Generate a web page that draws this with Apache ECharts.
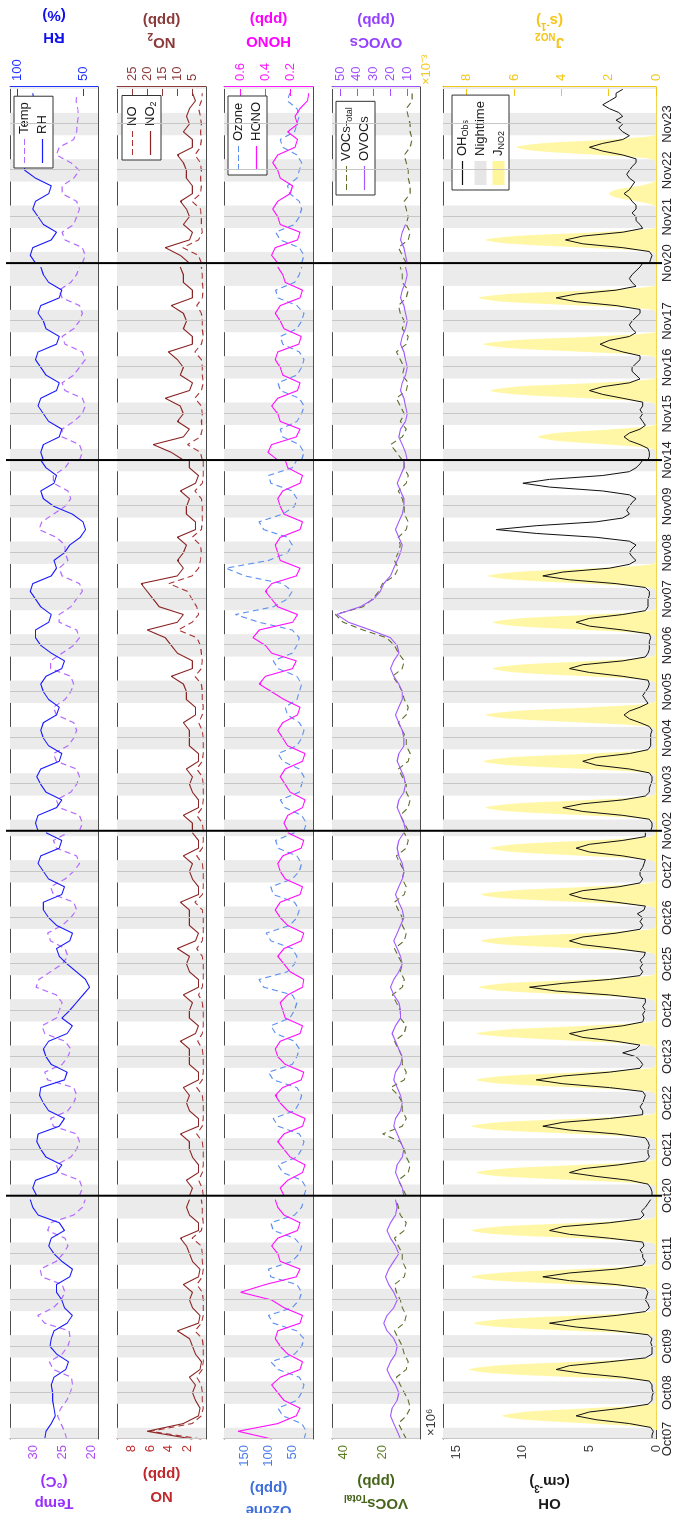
<!DOCTYPE html>
<html><head><meta charset="utf-8">
<script src="https://cdn.jsdelivr.net/npm/echarts/dist/echarts.min.js"></script>
<style>
html,body{margin:0;padding:0;width:678px;height:1513px;overflow:hidden;background:#fff}
#chart{position:absolute;left:0;top:0;width:1513px;height:678px;transform-origin:0 0;transform:translateY(1513px) rotate(-90deg);}
</style></head><body><div id="chart"></div>
<script>
// ---------- time axis (broken into measurement periods) ----------
const segTickLabels = [
  ['Oct07','Oct08','Oct09','Oct10','Oct11'],
  ['Oct20','Oct21','Oct22','Oct23','Oct24','Oct25','Oct26','Oct27'],
  ['Nov02','Nov03','Nov04','Nov05','Nov06','Nov07','Nov08','Nov09'],
  ['Nov14','Nov15','Nov16','Nov17'],
  ['Nov20','Nov21','Nov22','Nov23']
];
const segSpanDays = [5.25, 7.875, 8.0, 4.25, 3.8];
const sunsetHour = 18.2, sunriseHour = 5.8;
const stepMetH = 4;   // Temp, RH, NO, NO2, O3, HONO, VOCs, OVOCs: 00,04,08,12,16,20
const stepRadH = 2;   // OH, JNO2: every 2 h

// ---------- Temp (°C) ----------
const temp = [
 [24.2,24.6,25.2,25.8,25.2,24.2, 23.6,23.2,23.4,26.5,27.2,25.0, 24.0,23.6,23.8,28.0,29.2,26.5,
  25.2,24.5,25.0,28.5,28.8,26.0, 24.8,24.0,24.5,27.5,27.0,23.0, 21.5,21.0],
 [22.0,21.5,22.0,25.5,26.0,23.5, 22.5,22.0,22.5,26.5,27.0,24.0, 23.0,22.5,23.0,27.5,28.0,25.0,
  24.0,23.5,24.5,28.0,28.5,26.0, 25.5,25.0,26.0,29.5,29.0,27.0, 25.0,24.0,24.5,27.0,27.5,25.0,
  23.5,22.5,23.0,26.5,27.0,24.5, 23.0,22.0,22.5,26.0,26.5,24.0],
 [22.0,21.5,22.0,25.5,26.0,23.5, 22.5,22.0,22.5,26.0,26.5,24.0, 23.0,22.5,23.0,26.0,26.5,24.5,
  23.5,23.0,23.5,27.0,27.0,25.0, 23.0,22.0,22.5,25.5,25.5,23.5, 22.5,21.5,22.0,25.0,25.5,24.0,
  24.5,24.5,26.0,29.0,28.5,26.5, 24.5,23.5,24.0,26.5,26.5,24.5, 23.5],
 [22.0,21.5,22.0,25.0,25.0,23.0, 21.5,21.0,21.5,24.5,25.0,23.0, 22.0,21.0,21.5,24.5,25.0,23.0,
  22.0,21.5,22.0,25.0,25.5,23.5, 22.5,22.0],
 [21.5,21.0,21.5,24.5,25.0,23.0, 22.5,22.0,22.5,25.0,25.0,23.0, 22.0,23.5,26.0,25.5,23.0,22.5,
  22.4,22.2,22.3,22.6,22.4]
];
// ---------- RH (%) ----------
const rh = [
 [79,78,74,71,72,73, 73,74,72,63,61,70, 75,74,72,62,58,64, 66,70,70,60,58,66, 72,76,74,64,68,84, 88,90],
 [85,88,86,70,66,78, 82,85,84,68,64,76, 80,83,82,64,62,74, 78,80,76,62,58,66, 60,55,50,45,48,55,
  62,68,70,60,58,70, 76,80,80,66,64,76, 80,84,82,68,66,78],
 [84,86,84,70,66,78, 82,85,82,68,66,76, 80,82,80,70,68,76, 80,82,78,66,64,74, 82,86,86,76,74,82,
  86,90,88,74,70,72, 64,60,52,48,50,58, 72,80,82,72,70,78, 82],
 [80,82,80,68,66,76, 80,84,82,70,68,78, 82,86,84,70,68,78, 80,84,82,68,66,76, 80,82],
 [86,90,88,74,70,80, 84,88,86,76,74,86, 94,95,90,82,86,88, 88,88,87,87,88]
];
// ---------- NO (ppb) ----------
const no = [
 [0.5,6.0,1.5,0.5,0.3,0.4, 0.4,0.5,1.0,0.4,0.3,0.3, 0.3,0.4,1.2,0.5,0.3,0.3, 0.3,0.4,1.0,0.4,0.3,0.4,
  0.4,0.5,1.5,0.5,0.3,0.4, 0.4,0.5],
 [0.3,0.4,0.8,0.4,0.3,0.3, 0.3,0.4,1.0,0.4,0.3,0.3, 0.3,0.4,1.0,0.4,0.3,0.3, 0.3,0.4,0.9,0.4,0.3,0.3,
  0.3,0.4,0.8,0.4,0.3,0.3, 0.3,0.4,1.0,0.4,0.3,0.3, 0.3,0.4,1.2,0.4,0.3,0.3, 0.3,0.4,1.0,0.4,0.3,0.3],
 [0.3,0.4,1.0,0.4,0.3,0.3, 0.3,0.4,1.0,0.4,0.3,0.3, 0.3,0.4,0.8,0.4,0.3,0.4, 0.4,0.5,1.2,0.5,0.4,0.5,
  0.6,1.0,3.0,1.5,0.8,1.0, 1.5,2.0,4.0,1.5,0.8,0.6, 0.5,0.6,1.5,0.5,0.4,0.4, 0.4,0.5,1.2,0.4,0.3,0.3, 0.3],
 [0.4,0.6,2.0,0.6,0.4,0.5, 0.4,0.5,1.2,0.5,0.3,0.4, 0.4,0.5,1.2,0.5,0.3,0.4, 0.4,0.5,1.0,0.4,0.3,0.4, 0.4,0.5],
 [0.5,0.8,2.5,0.8,0.4,0.5, 0.5,0.6,1.5,0.6,0.5,0.6, 0.5,0.6,1.2,0.6,0.5,0.6, 0.5,0.6,0.8,0.5,0.4]
];
// ---------- NO2 (ppb) ----------
const no2 = [
 [5,20,8,3,2.5,4, 5,4,6,2.5,2,4, 5,6,10,3,2.5,5, 6,5,8,3,2.5,5, 6,7,9,3,3,6, 7,6],
 [6,5,7,3,3,5, 6,6,9,3,3,6, 7,6,8,3,3,6, 6,6,9,4,3,6, 6,5,8,3,3,6, 7,6,10,4,3,6, 6,6,9,3,3,5, 6,5,8,3,3,5],
 [5,5,8,3,3,5, 6,5,7,3,3,6, 6,6,8,4,4,7, 7,8,12,5,5,10, 12,14,20,10,8,16, 18,20,22,10,8,10,
  8,7,10,4,4,7, 7,6,9,4,3,6, 6],
 [8,12,18,8,6,10, 8,9,14,6,5,9, 8,10,13,5,5,8, 7,8,12,5,5,8, 8,9],
 [6,9,14,6,5,8, 6,7,9,5,5,7, 7,8,10,5,5,8, 6,7,6,4,5]
];
// ---------- Ozone (ppb) ----------
const ozone = [
 [25,20,30,70,80,40, 30,25,35,80,95,45, 30,25,40,90,100,50, 35,30,40,95,100,50, 35,30,45,90,95,45, 30,25],
 [25,20,30,70,80,40, 30,25,35,80,90,45, 35,30,40,90,100,50, 40,35,45,85,95,55, 45,40,50,110,120,60,
  45,40,50,95,105,55, 40,35,45,90,95,50, 35,30,40,80,85,45],
 [25,20,30,65,75,35, 30,25,35,70,80,40, 30,25,35,60,65,40, 35,30,40,80,90,50, 40,35,50,120,170,90,
  60,50,70,150,190,100, 60,50,60,110,120,70, 45,40,50,95,100,50, 40],
 [30,25,35,70,75,40, 30,25,35,75,80,40, 30,25,35,70,75,40, 30,25,40,80,85,45, 35,30],
 [30,25,35,75,85,45, 35,30,35,55,60,40, 35,30,40,70,75,45, 40,35,40,60,55]
];
// ---------- HONO (ppb) ----------
const hono = [
 [0.35,0.62,0.30,0.15,0.12,0.25, 0.30,0.35,0.28,0.12,0.10,0.22, 0.28,0.32,0.30,0.12,0.10,0.25,
  0.35,0.60,0.40,0.15,0.12,0.28, 0.30,0.35,0.30,0.14,0.12,0.25, 0.30,0.32],
 [0.25,0.28,0.22,0.10,0.08,0.20, 0.25,0.30,0.25,0.10,0.08,0.22, 0.28,0.32,0.26,0.11,0.09,0.24,
  0.30,0.32,0.28,0.12,0.10,0.24, 0.26,0.28,0.22,0.10,0.09,0.20, 0.25,0.30,0.25,0.11,0.09,0.22,
  0.28,0.32,0.28,0.12,0.10,0.24, 0.28,0.30,0.26,0.11,0.09,0.22],
 [0.22,0.25,0.22,0.10,0.08,0.20, 0.24,0.28,0.24,0.10,0.08,0.22, 0.26,0.30,0.26,0.14,0.12,0.25,
  0.35,0.45,0.40,0.18,0.15,0.35, 0.40,0.50,0.45,0.18,0.14,0.30, 0.35,0.40,0.35,0.15,0.12,0.28,
  0.30,0.32,0.28,0.12,0.10,0.25, 0.28,0.30,0.26,0.12,0.10,0.22, 0.24],
 [0.30,0.38,0.35,0.15,0.12,0.28, 0.30,0.35,0.30,0.14,0.12,0.26, 0.28,0.32,0.30,0.13,0.11,0.25,
  0.28,0.32,0.28,0.12,0.10,0.24, 0.26,0.30],
 [0.30,0.35,0.32,0.14,0.12,0.28, 0.30,0.34,0.30,0.20,0.18,0.28, 0.30,0.34,0.30,0.16,0.14,0.22,
  0.14,0.16,0.12,0.06,0.05]
];
// ---------- VOCs_Total (ppb) ----------
const vocTotal = [
 [8,10,12,8,6,7, 9,11,13,8,7,9, 10,12,14,9,8,10, 11,13,14,9,8,10, 10,12,14,9,8,11, 12,13],
 [8,10,12,7,6,8, 9,11,20,10,8,10, 10,12,16,9,8,10, 10,12,14,9,8,11, 11,13,15,10,9,11,
  10,12,14,9,8,10, 10,12,14,9,8,10, 9,11,13,8,7,9],
 [7,9,11,7,6,8, 8,10,12,7,6,8, 8,10,12,8,7,9, 10,12,15,10,9,12, 14,18,30,40,44,30,
  25,22,20,14,12,14, 12,11,12,8,7,9, 9,10,12,8,7,9, 9],
 [10,13,16,10,8,11, 9,11,13,8,7,10, 9,11,13,8,7,10, 9,11,12,8,7,10, 10,11],
 [8,10,12,7,6,8, 7,8,9,6,6,7, 7,8,9,6,5,6, 6,7,8,5,5]
];
// ---------- OVOCs (ppb) ----------
const ovocs = [
 [14,16,18,20,19,16, 15,17,20,22,20,17, 16,18,22,24,22,18, 16,18,21,23,21,18, 15,17,20,22,20,17, 16,17],
 [12,13,15,17,16,13, 12,14,16,18,17,14, 13,14,16,18,17,14, 13,15,17,19,17,14, 14,15,18,20,18,15,
  13,14,16,18,16,14, 12,13,15,17,15,13, 12,13,15,16,15,12],
 [11,12,14,16,15,12, 11,12,14,16,15,12, 12,13,15,17,15,13, 13,15,18,20,18,15, 16,20,32,45,52,38,
  30,26,24,20,18,16, 14,13,15,17,15,13, 12,12,14,16,14,12, 12],
 [10,11,13,15,14,11, 10,11,12,14,13,11, 10,11,12,14,13,11, 10,11,12,14,13,11, 10,11],
 [10,11,12,14,13,11]
];
// ---------- OH (10^6 cm^-3), every 2 h ----------
const ohObs = [
 [0.3,0.3,0.2,0.4,2.0,4.5,6.0,5.0,2.5,0.6,0.3,0.3,
  0.2,0.3,0.3,0.5,2.5,5.5,7.5,6.5,3.5,0.8,0.3,0.3,
  0.3,0.4,0.3,0.6,3.0,6.0,8.0,6.0,3.0,0.8,0.5,0.6,
  0.8,0.7,0.6,0.8,3.0,6.5,8.5,6.5,3.0,1.0,0.8,1.0,
  1.0,1.2,0.9,1.0,3.5,6.5,8.0,7.0,3.5,1.2,0.9,1.1,
  0.8,0.6,0.4],
 [0.3,0.3,0.4,0.6,2.0,4.5,6.5,5.5,2.8,0.8,0.5,0.6,
  0.6,0.5,0.6,0.8,3.0,6.5,8.5,7.0,3.5,1.0,1.0,1.2,
  1.0,0.9,0.8,1.0,3.5,7.0,9.0,7.0,3.5,1.2,1.0,1.2,
  1.5,2.5,1.5,1.2,3.0,5.5,6.5,5.0,2.5,1.0,0.9,1.0,
  0.8,1.0,0.8,0.8,3.5,7.5,9.5,7.0,3.5,1.2,1.0,1.2,
  1.0,1.2,0.9,0.8,3.0,5.5,6.5,5.5,3.0,1.2,1.0,1.2,
  1.0,1.4,0.9,0.8,3.0,5.5,6.5,5.5,2.8,1.2,1.0,1.2,
  1.2,1.0,0.9,0.8,2.5,5.0,6.0,5.0,2.5,0.8,0.8],
 [0.4,0.3,0.3,0.5,2.5,5.5,7.0,5.5,2.5,0.8,0.5,0.5,
  0.4,0.3,0.3,0.5,2.0,4.5,5.5,4.5,2.0,0.6,0.4,0.4,
  0.4,0.4,0.3,0.5,1.2,2.0,2.4,2.0,1.2,0.6,0.8,1.0,
  0.8,0.6,0.5,0.6,2.5,5.0,6.5,5.5,2.5,0.8,0.6,0.5,
  0.5,0.5,0.4,0.5,2.5,5.0,6.0,5.0,2.5,0.8,0.6,0.6,
  0.6,0.5,0.5,0.8,3.0,6.5,8.5,7.0,3.5,2.0,1.5,1.8,
  2.0,1.8,1.5,2.0,4.5,9.0,12.0,9.0,4.5,2.5,2.0,2.2,
  2.0,1.8,1.5,2.0,4.0,8.0,10.0,8.0,4.0,2.0,1.5,1.2,
  1.0],
 [0.6,0.5,0.5,0.6,1.2,2.0,2.4,2.0,1.2,0.8,1.0,1.2,
  1.0,1.2,1.0,1.0,2.5,4.0,5.0,4.0,2.0,1.2,1.5,1.8,
  1.8,1.5,1.2,1.2,2.5,3.5,4.2,3.5,2.0,1.5,1.8,2.0,
  1.8,1.5,1.2,1.2,3.0,6.0,7.5,6.0,3.0,1.5,1.8,2.0,
  1.8,1.5,1.2,1.0],
 [0.5,0.4,0.3,0.5,2.5,5.5,6.8,5.5,2.5,1.0,1.2,1.5,
  1.5,1.8,1.5,1.5,1.8,2.0,2.4,2.0,1.8,1.6,2.0,2.2,
  2.0,1.8,1.5,1.5,2.5,4.0,5.0,4.0,2.5,2.0,2.5,2.8,
  2.5,3.0,2.5,2.8,3.5,4.0,3.5,3.0,3.0,2.5]
];
// ---------- J_NO2 (10^-3 s^-1), every 2 h ----------
const jNO2 = [
 [0,0,0,0.3,2.8,5.5,6.5,5.6,2.8,0.2,0,0,
  0,0,0,0.3,3.4,6.8,7.9,6.8,3.4,0.2,0,0,
  0,0,0,0.3,3.3,6.6,7.7,6.6,3.3,0.2,0,0,
  0,0,0,0.3,3.3,6.7,7.8,6.7,3.3,0.2,0,0,
  0,0,0,0.3,3.3,6.7,7.8,6.7,3.2,0.2,0,0,
  0,0,0],
 [0,0,0,0.3,3.2,6.5,7.6,6.5,3.2,0.2,0,0,
  0,0,0,0.3,3.3,6.7,7.8,6.7,3.2,0.2,0,0,
  0,0,0,0.3,3.2,6.5,7.6,6.5,3.1,0.2,0,0,
  0,0,0,0.3,3.0,6.0,7.6,6.4,3.0,0.2,0,0,
  0,0,0,0.3,3.2,6.4,7.5,6.4,3.0,0.2,0,0,
  0,0,0,0.3,3.1,6.3,7.4,6.3,3.0,0.2,0,0,
  0,0,0,0.3,3.1,6.3,7.4,6.2,2.9,0.2,0,0,
  0,0,0,0.3,3.0,6.0,7.0,6.0,2.8,0.2,0],
 [0,0,0,0.3,3.0,6.1,7.2,6.1,2.8,0.2,0,0,
  0,0,0,0.3,3.0,6.2,7.3,6.2,2.8,0.2,0,0,
  0,0,0,0.3,3.0,6.1,7.2,6.0,2.7,0.2,0,0,
  0,0,0,0.3,2.9,5.9,6.9,5.8,2.6,0.2,0,0,
  0,0,0,0.3,2.9,5.9,6.9,5.8,2.6,0.2,0,0,
  0,0,0,0.3,3.0,6.0,7.1,6.0,2.6,0.2,0,0],
 [0,0,0,0.2,2.0,4.2,5.0,4.2,1.8,0.1,0,0,
  0,0,0,0.2,2.9,5.9,7.0,5.9,2.5,0.1,0,0,
  0,0,0,0.2,3.0,6.2,7.3,6.1,2.6,0.1,0,0,
  0,0,0,0.2,3.1,6.4,7.5,6.3,2.6,0.1,0,0,
  0,0,0,0],
 [0,0,0,0.2,3.0,6.1,7.2,6.0,2.5,0.1,0,0,
  0,0,0,0.1,0.8,1.7,2.0,1.7,0.7,0.1,0,0,
  0,0,0,0.2,2.4,5.0,5.9,4.9,2.0,0.1,0,0]
];

// ---------- build ----------
const FONT = 'Liberation Sans, Arial, Helvetica, sans-serif';
const segOffset = [];
segSpanDays.reduce((acc, d, i) => { segOffset[i] = acc; return acc + d; }, 0);
const totalDays = segSpanDays.reduce((a, b) => a + b, 0);

const tickVals = [], tickMap = {};
segTickLabels.forEach((labs, s) => labs.forEach((lab, k) => {
  const v = segOffset[s] + k; tickVals.push(v); tickMap[v.toFixed(4)] = lab;
}));
const nightAreas = [];
segSpanDays.forEach((span, s) => {
  for (let k = 0; k <= Math.ceil(span); k++) {
    const a = Math.max(0, k - (24 - sunsetHour) / 24), b = Math.min(span, k + sunriseHour / 24);
    if (b > a) nightAreas.push([{ xAxis: segOffset[s] + a }, { xAxis: segOffset[s] + b }]);
  }
});
const breaks = segOffset.slice(1);

function build(segs, stepH) {
  const out = [];
  segs.forEach((arr, s) => {
    if (s > 0) out.push([segOffset[s], '-']);
    arr.forEach((v, i) => out.push([segOffset[s] + i * stepH / 24, v == null ? '-' : v]));
  });
  return out;
}

const gridTops = [10, 117, 224, 332, 443];
const gridHeights = [88, 89, 89, 88, 213];
const grids = gridTops.map((t, i) => ({ left: 74, width: 1352, top: t, height: gridHeights[i], outerBoundsMode: 'none', containLabel: false }));

const xAxes = [];
gridTops.forEach((t, i) => {
  ['bottom', 'top'].forEach(pos => {
    const lineColor = (i === 4 && pos === 'bottom') ? '#f2d64b' : '#4d4d4d';
    xAxes.push({
      type: 'value', gridIndex: i, position: pos, min: 0, max: totalDays,
      axisLine: { show: true, onZero: false, lineStyle: { color: lineColor, width: 1 } },
      axisTick: { show: true, inside: true, length: 5, customValues: tickVals, lineStyle: { color: '#4d4d4d' } },
      axisLabel: {
        show: i === 4 && pos === 'bottom', customValues: tickVals, margin: 5,
        fontSize: 13, color: '#262626', fontFamily: FONT,
        formatter: v => tickMap[Number(v).toFixed(4)] || ''
      },
      splitLine: { show: false }
    });
  });
});

const subRich = c => ({
  sub: { fontSize: 10, lineHeight: 10, verticalAlign: 'bottom', fontWeight: 'bold', color: c, fontFamily: FONT },
  sup: { fontSize: 10, lineHeight: 10, verticalAlign: 'top', fontWeight: 'bold', color: c, fontFamily: FONT }
});
function yAx(gi, pos, min, max, ticks, color, nameStr, nameColor, labelFmt) {
  return {
    type: 'value', gridIndex: gi, position: pos, min, max,
    name: nameStr, nameLocation: 'middle', nameRotate: 90,
    nameGap: pos === 'left' ? 23 : 34,
    nameTextStyle: { fontSize: 15, fontWeight: 'bold', color: nameColor, lineHeight: 22, fontFamily: FONT, rich: subRich(nameColor) },
    axisLine: { show: true, onZero: false, lineStyle: { color, width: 1 } },
    axisTick: { show: true, inside: true, length: 9, customValues: ticks, lineStyle: { color } },
    axisLabel: { show: true, customValues: ticks, color, fontSize: 13, margin: 6, fontFamily: FONT, formatter: labelFmt },
    splitLine: { show: false }
  };
}
const yAxes = [
  yAx(0, 'left', 18.8, 34, [20, 25, 30], '#b04cf5', 'Temp\n(°C)', '#9a30ff'),
  yAx(0, 'right', 38.6, 105.3, [50, 100], '#2233ff', 'RH\n(%)', '#1010ee'),
  yAx(1, 'left', 0, 9.6, [2, 4, 6, 8], '#c03030', 'NO\n(ppb)', '#c0282b'),
  yAx(1, 'right', 0.5, 30, [5, 10, 15, 20, 25], '#8c3b3b', 'NO{sub|2}\n(ppb)', '#8b3a3a'),
  yAx(2, 'left', 6, 194, [50, 100, 150], '#4a7ee8', 'Ozone\n(ppb)', '#3f6fdc'),
  yAx(2, 'right', 0.015, 0.735, [0.2, 0.4, 0.6], '#ff1aff', 'HONO\n(ppb)', '#ff00ff', v => Number(v).toFixed(1)),
  yAx(3, 'left', 1, 45.7, [20, 40], '#5a7d1e', 'VOCs{sub|Total}\n(ppb)', '#46651a'),
  yAx(3, 'right', 2.4, 54.8, [10, 20, 30, 40, 50], '#a050ff', 'OVOCs\n(ppb)', '#9440ff'),
  yAx(4, 'left', 0, 16, [0, 5, 10, 15], '#404040', 'OH\n(cm{sup|-3})', '#1a1a1a'),
  yAx(4, 'right', 0, 9.0, [0, 2, 4, 6, 8], '#f2c71c', 'J{sub|NO2}\n(s{sup|-1})', '#f5c518')
];

function nightSeries(i, name) {
  return {
    name, type: 'line', xAxisIndex: 2 * i, yAxisIndex: 2 * i, data: [], z: 0, silent: true,
    itemStyle: { color: '#e3e3e3' }, lineStyle: { width: 0 }, symbol: 'none',
    markArea: { silent: true, itemStyle: { color: '#ebebeb' }, data: nightAreas },
    markLine: { silent: true, symbol: ['none', 'none'], label: { show: false },
      lineStyle: { color: '#c6c6c6', type: 'solid', width: 1 }, data: tickVals.map(v => ({ xAxis: v })) }
  };
}
const seriesColor = {
  Temp: '#b36bff', RH: '#1a1aff', NO: '#a83232', NO2: '#8b2525', Ozone: '#5b8ef0', HONO: '#ff10ff',
  VOCsTotal: '#5a6e2a', OVOCs: '#a259ff', OHObs: '#111111'
};
function lineS(name, i, yi, data, dashed, width) {
  const color = seriesColor[name];
  return {
    name, type: 'line', xAxisIndex: 2 * i, yAxisIndex: yi, data, symbol: 'none', z: 3,
    connectNulls: false, itemStyle: { color },
    lineStyle: { color, width: width || 1.1, type: dashed ? [6, 4] : 'solid' }
  };
}
const series = [
  nightSeries(0, '_n0'), nightSeries(1, '_n1'), nightSeries(2, '_n2'), nightSeries(3, '_n3'), nightSeries(4, 'Nighttime'),
  lineS('Temp', 0, 0, build(temp, stepMetH), true, 1.2),
  lineS('RH', 0, 1, build(rh, stepMetH), false, 1.1),
  lineS('NO', 1, 2, build(no, stepMetH), true, 1.1),
  lineS('NO2', 1, 3, build(no2, stepMetH), false, 1.1),
  lineS('Ozone', 2, 4, build(ozone, stepMetH), true, 1.1),
  lineS('HONO', 2, 5, build(hono, stepMetH), false, 1.1),
  lineS('VOCsTotal', 3, 6, build(vocTotal, stepMetH), true, 1.1),
  lineS('OVOCs', 3, 7, build(ovocs, stepMetH), false, 1.1),
  {
    name: 'JNO2', type: 'line', xAxisIndex: 8, yAxisIndex: 9, data: build(jNO2, stepRadH), symbol: 'none', z: 1,
    smooth: 0.3, itemStyle: { color: '#fff39a' }, lineStyle: { width: 0 },
    areaStyle: { color: '#fff7a6', opacity: 1 }
  },
  lineS('OHObs', 4, 8, build(ohObs, stepRadH), false, 1.0)
];

const legendNames = {
  Temp: 'Temp', RH: 'RH', NO: 'NO', NO2: 'NO{sub|2}', Ozone: 'Ozone', HONO: 'HONO',
  VOCsTotal: 'VOCs{sub|Total}', OVOCs: 'OVOCs', OHObs: 'OH{sub|Obs}', Nighttime: 'Nighttime', JNO2: 'J{sub|NO2}'
};
const solidIcon = 'path://M0,0H24V1.2H0Z';
const dashIcon = 'path://M0,0H6V1.2H0Z M9,0H15V1.2H9Z M18,0H24V1.2H18Z';
const lineItem = (name, dashed) => ({ name, icon: dashed ? dashIcon : solidIcon, itemStyle: { color: seriesColor[name] } });
function legend(left, top, data) {
  return {
    orient: 'vertical', left, top, data, selectedMode: false,
    backgroundColor: '#fff', borderColor: '#333', borderWidth: 1, padding: [3, 6, 3, 5],
    itemWidth: 24, itemHeight: 12, itemGap: 3,
    formatter: n => legendNames[n] || n,
    textStyle: { fontSize: 13, color: '#1a1a1a', fontFamily: FONT, lineHeight: 15,
      rich: { sub: { fontSize: 9, lineHeight: 9, verticalAlign: 'bottom', color: '#1a1a1a', fontFamily: FONT } } }
  };
}
const legends = [
  legend(1345, 14, [lineItem('Temp', true), lineItem('RH', false)]),
  legend(1353, 122, [lineItem('NO', true), lineItem('NO2', false)]),
  legend(1338, 228, [lineItem('Ozone', true), lineItem('HONO', false)]),
  legend(1318, 336, [lineItem('VOCsTotal', true), lineItem('OVOCs', false)]),
  legend(1323, 452, [lineItem('OHObs', false), { name: 'Nighttime', icon: 'rect', itemStyle: { color: '#e6e6e6' } },
    { name: 'JNO2', icon: 'rect', itemStyle: { color: '#fff59a' } }])
];

const chart = echarts.init(document.getElementById('chart'), null, { renderer: 'canvas', width: 1513, height: 678 });
chart.setOption({
  animation: false, backgroundColor: '#fff',
  textStyle: { fontFamily: FONT },
  grid: grids, xAxis: xAxes, yAxis: yAxes, series, legend: legends
});
const breakLines = breaks.map(b => {
  const px = chart.convertToPixel({ xAxisIndex: 0 }, b);
  return { type: 'line', shape: { x1: px, y1: 6, x2: px, y2: 662 }, style: { stroke: '#000', lineWidth: 2 }, z: 50 };
});
chart.setOption({
  graphic: breakLines.concat([
    { type: 'text', left: 77, top: 425, z: 50, style: { text: '×10⁶', fontSize: 13, fill: '#333', fontFamily: FONT } },
    { type: 'text', left: 1428, top: 420, z: 50, style: { text: '×10⁻³', fontSize: 13, fill: '#f2c71c', fontFamily: FONT } }
  ])
});
</script></body></html>
